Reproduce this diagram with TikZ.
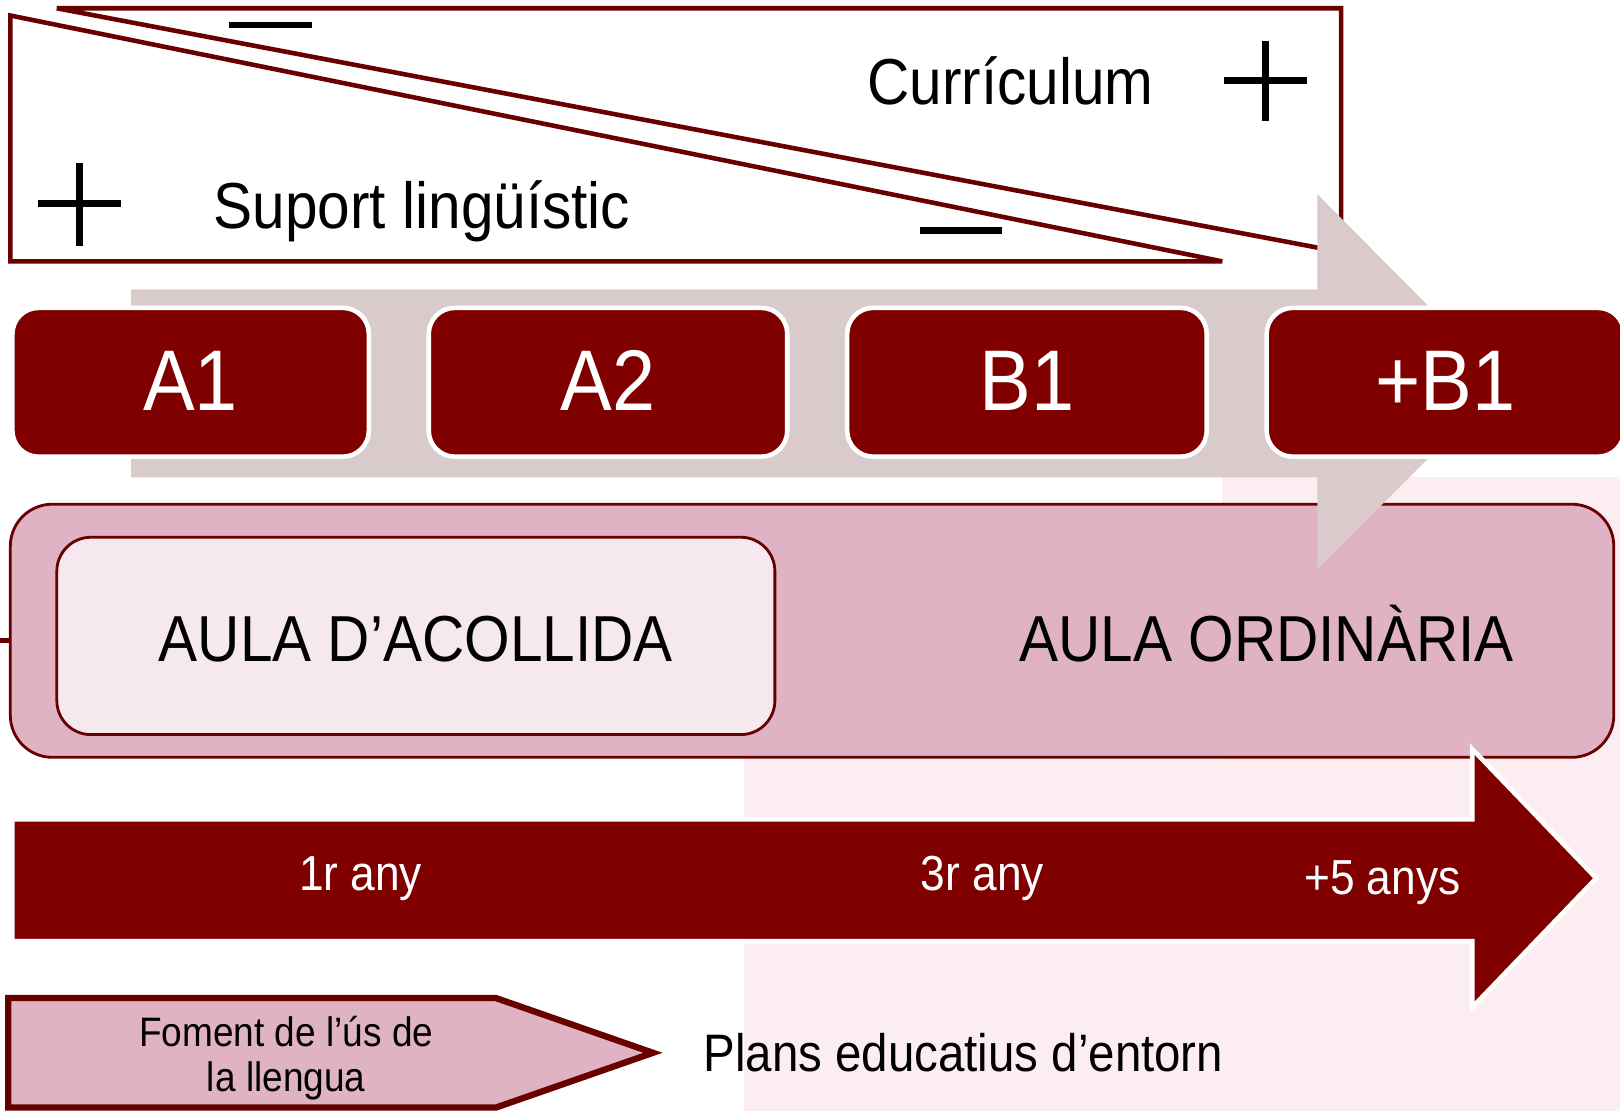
\documentclass[tikz,border=0pt]{standalone}
\usepackage{fontspec}
\setmainfont{Liberation Sans}[FakeStretch=0.9]
\usetikzlibrary{fit}
\definecolor{dred}{HTML}{800000}
\definecolor{lred}{HTML}{680000}
\definecolor{greyarr}{HTML}{D9CBCB}
\definecolor{pinkf}{HTML}{DFB3C3}
\definecolor{pinkl}{HTML}{F5E9EF}
\definecolor{bgpink}{HTML}{FCEEF0}
\begin{document}
\begin{tikzpicture}[x=0.010332cm,y=-0.010332cm,
  lvl/.style={draw=white, line width=1.3pt, fill=dred, rounded corners=0.26cm, inner sep=0pt},
  lvltxt/.style={inner sep=0pt, text=white, font=\fontsize{24.5}{28}\selectfont},
  frameline/.style={draw=lred, line width=1.3pt, line join=miter},
  signline/.style={draw=black, line width=1.8pt},
  bigtxt/.style={inner sep=0pt, font=\fontsize{18.5}{22}\selectfont},
  yeartxt/.style={inner sep=0pt, text=white, font=\fontsize{14}{17}\selectfont},
]
\useasboundingbox (0,0) rectangle (1568,1075);
\fill[white] (0,0) rectangle (1568,1075);
% faint background tint
\fill[bgpink] (720,735) rectangle (1568,1075);
\fill[bgpink] (1183,462) rectangle (1568,735);

% top frame with two triangles
\draw[frameline] (10,15) -- (10,253) -- (1183,253) -- cycle;
\draw[frameline] (55,8) -- (1298,8) -- (1298,244) -- cycle;
% signs
\draw[signline] (222,24) -- (302,24);
\draw[signline] (37,197) -- (117,197) (77,158) -- (77,238);
\draw[signline] (890,223) -- (970,223);
\draw[signline] (1185,78) -- (1265,78) (1225,40) -- (1225,117);
\node[bigtxt, anchor=base] (curr) at (978,101) {Currículum};
\node[bigtxt, anchor=base] (suport) at (408.5,221) {Suport lingüístic};

% pink classroom box
\draw[lred, line width=1.2pt] (0,620) -- (10,620);
\node[fit={(10,488)(1562,733)}, inner sep=0pt, fill=pinkf, draw=lred, line width=0.8pt, rounded corners=0.42cm] (ordbox) {};
\node[fit={(55,520)(750,711)}, inner sep=0pt, fill=pinkl, draw=lred, line width=0.8pt, rounded corners=0.34cm] (acobox) {};
\node[bigtxt, anchor=base] (aco) at (402.5,640) {AULA D’ACOLLIDA};
\node[bigtxt, anchor=base] (ord) at (1226,640) {AULA ORDINÀRIA};

% grey arrow
\fill[greyarr] (127,280) -- (1275,280) -- (1275,188) -- (1456,370) -- (1275,551) -- (1275,462) -- (127,462) -- cycle;

% level boxes
\node[lvl, fit={(12,298)(357,442)}] (a1) {};
\node[lvl, fit={(415,298)(762,442)}] (a2) {};
\node[lvl, fit={(820,298)(1168,442)}] (b1) {};
\node[lvl, fit={(1226,298)(1572,442)}] (b1p) {};
\node[lvltxt, anchor=base] (ta1) at (a1.center |- 0,397) {A1};
\node[lvltxt, anchor=base] (ta2) at (a2.center |- 0,397) {A2};
\node[lvltxt, anchor=base] (tb1) at (b1.center |- 0,397) {B1};
\node[lvltxt, anchor=base] (tb1p) at (b1p.center |- 0,397) {+B1};

% time arrow
\draw[fill=dred, draw=white, line width=1.3pt, line join=miter] (12,793) -- (1425,793) -- (1425,725) -- (1545,850) -- (1425,975) -- (1425,911) -- (12,911) -- cycle;
\node[yeartxt, anchor=base] (y1) at (349,862) {1r any};
\node[yeartxt, anchor=base] (y3) at (951,862) {3r any};
\node[yeartxt, anchor=base] (y5) at (1338,866) {+5 anys};

% bottom pentagon
\draw[fill=pinkf, draw=lred, line width=1.8pt, line join=miter] (8,966) -- (480,966) -- (632,1019) -- (480,1072) -- (8,1072) -- cycle;
\node[inner sep=0pt, align=center, font=\fontsize{11.7}{12.9}\selectfont] (foment) at (277,1024) {Foment de l’ús de\\la llengua};
\node[inner sep=0pt, anchor=base, font=\fontsize{15}{18}\selectfont] (plans) at (932.5,1037) {Plans educatius d’entorn};
\end{tikzpicture}
\end{document}
